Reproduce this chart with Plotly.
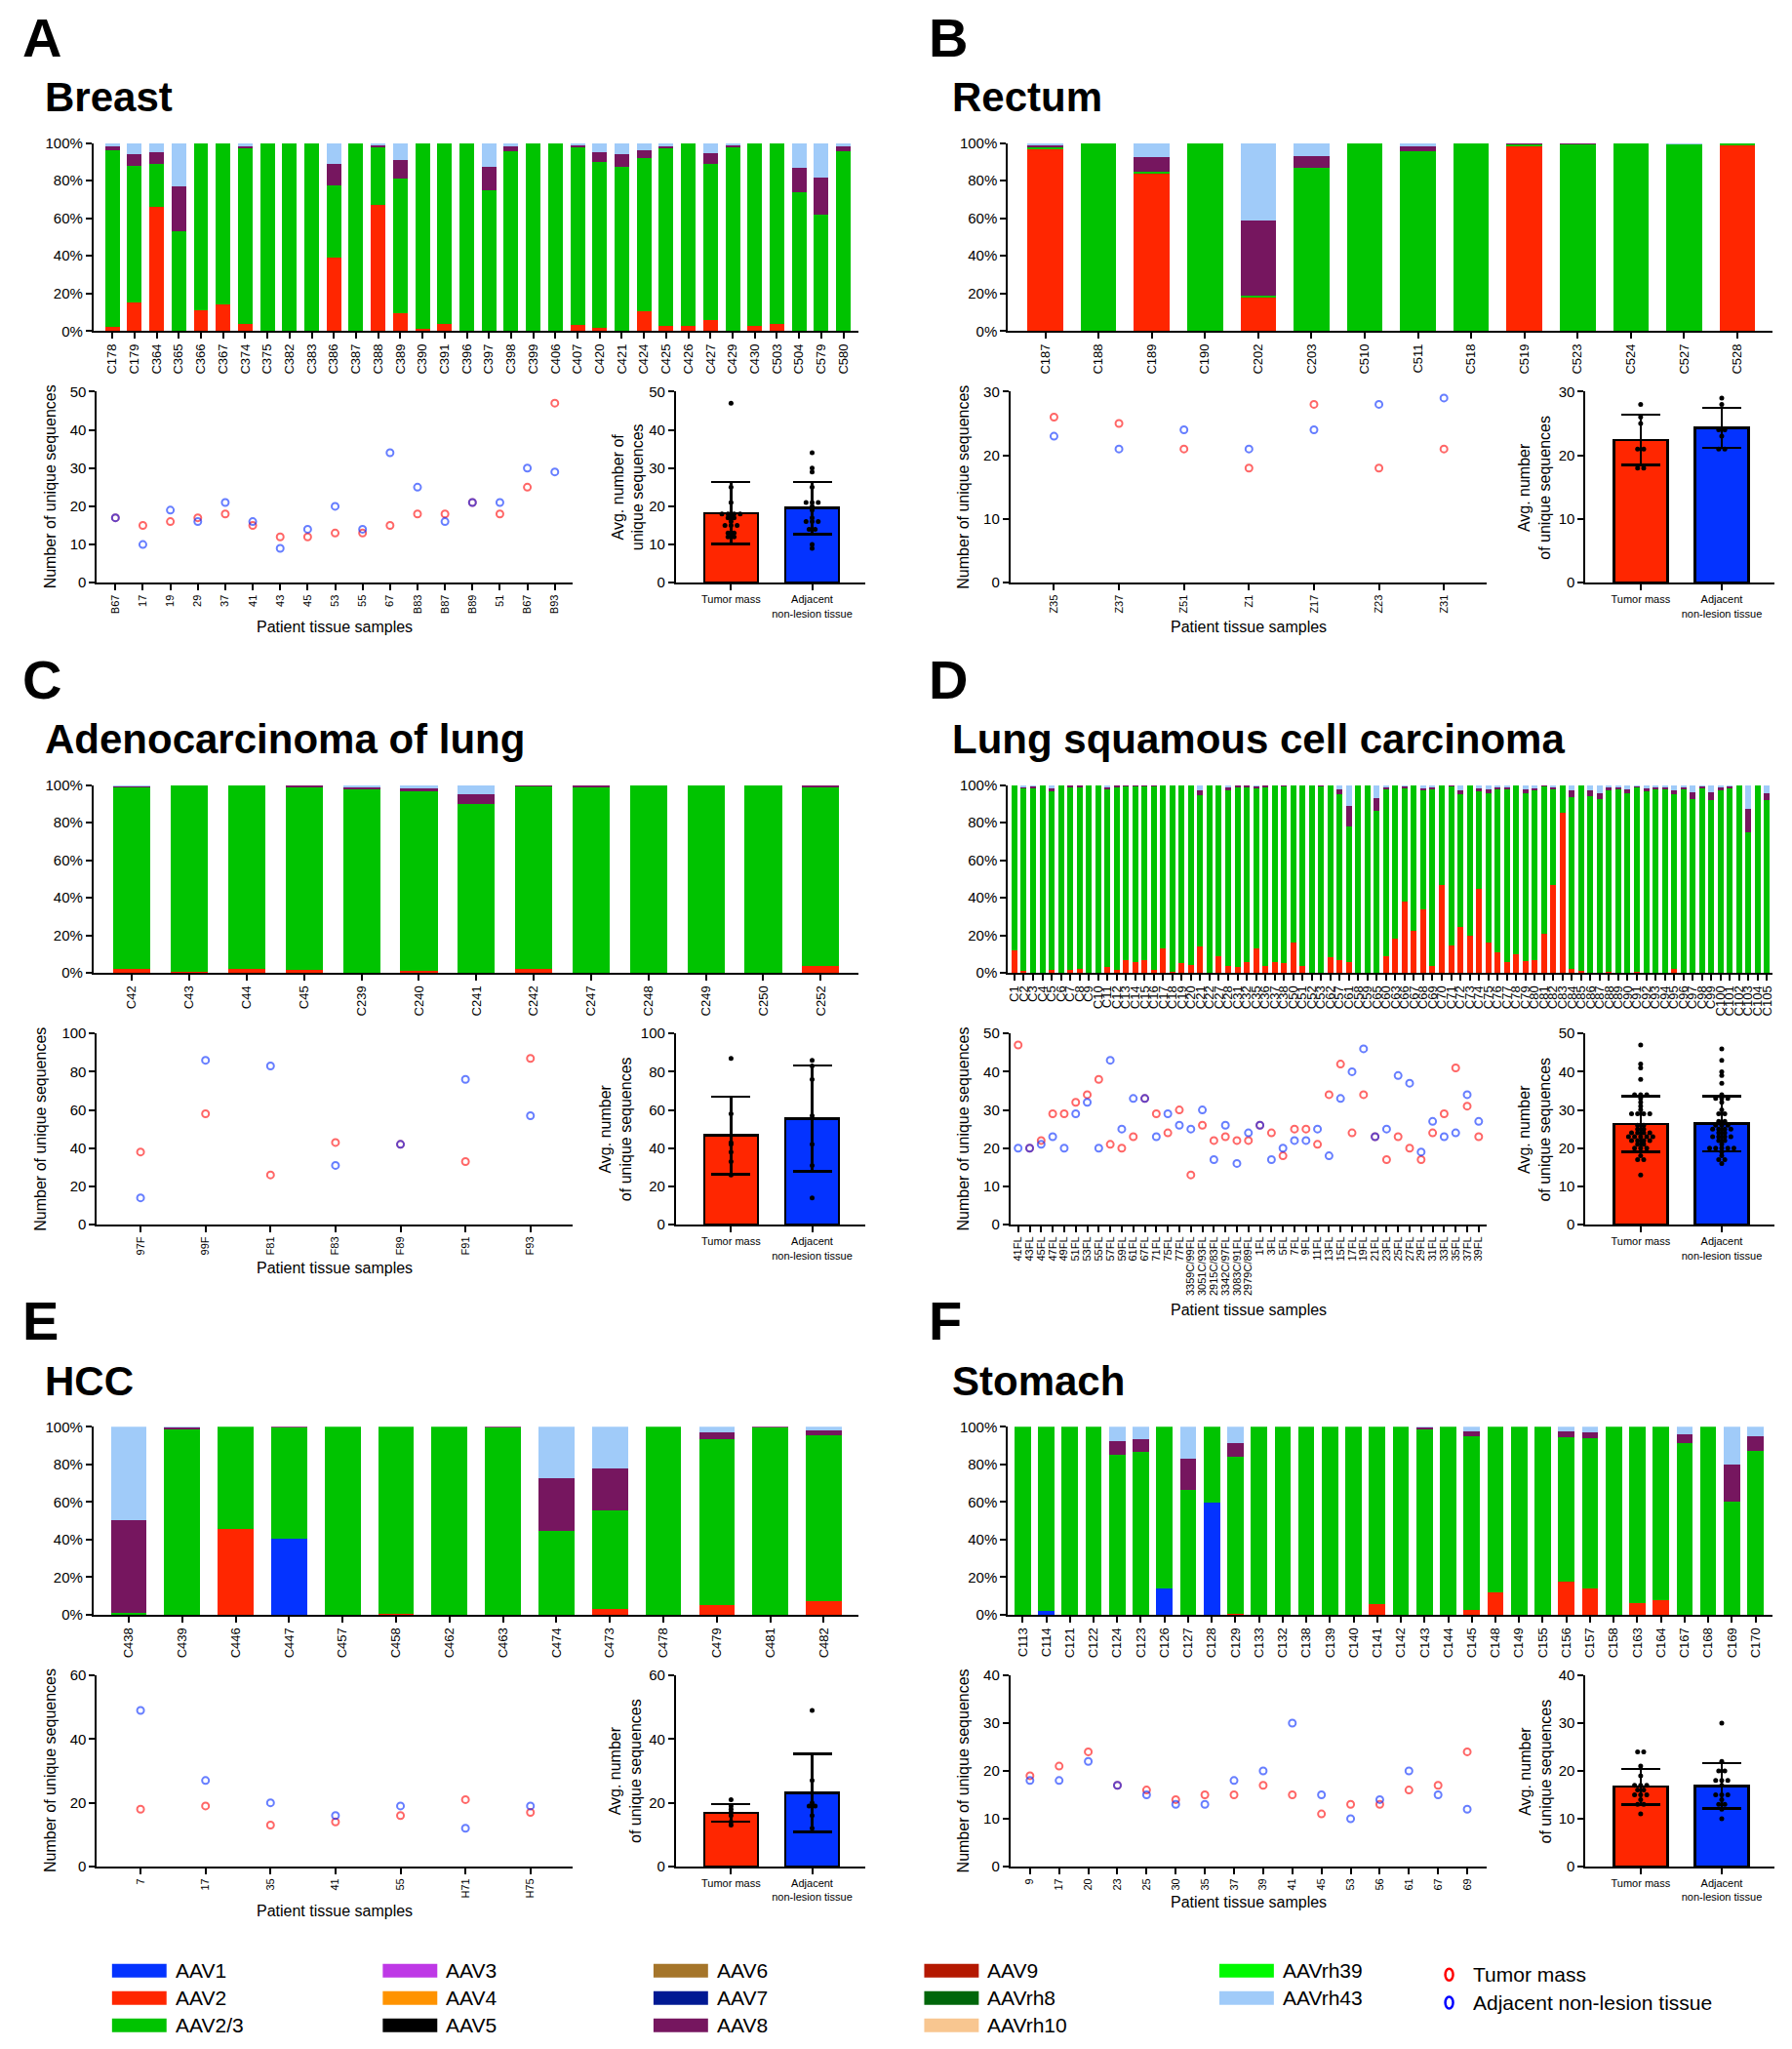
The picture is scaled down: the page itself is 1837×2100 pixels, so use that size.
import numpy as np
import plotly.graph_objects as go

W, H = 1837, 2100          # target picture size
OX, OY = 8, 19             # where the figure lands inside the page
VSCALE = 2120 / 2100       # page rows per picture row (measured)
FW, FH = W - 2 * OX, 2088
FONT = "Liberation Sans, Arial, Helvetica, sans-serif"

# ---------------- DATA ----------------
A_labels = ["C178","C179","C364","C365","C366","C367","C374","C375","C382","C383","C386","C387","C388","C389",
            "C390","C391","C396","C397","C398","C399","C406","C407","C420","C421","C424","C425","C426","C427",
            "C429","C430","C503","C504","C579","C580"]
A_AAV2   = [2, 15, 66, 0, 11, 14, 4, 0, 0, 0, 39, 0, 67, 9.5, 1, 4, 0, 0, 0, 0, 0, 3.5, 1.5, 0, 10.5, 3, 3, 6, 0, 3, 4, 0, 0, 0]
A_AAV23  = [94, 73, 23, 53, 89, 86, 93, 100, 100, 100, 38.5, 100, 31, 71.5, 99, 96, 100, 75, 95.5, 100, 100, 94.5, 88.5,
            87.5, 81.5, 94, 97, 83, 97.5, 97, 96, 74, 62, 95.5]
A_AAV8   = [2, 6, 6, 24, 0, 0, 1.5, 0, 0, 0, 11.5, 0, 1, 10, 0, 0, 0, 12.5, 2.5, 0, 0, 1, 5, 6.5, 4, 1.5, 0, 5.5, 1.2, 0, 0, 13, 19.5, 2.5]
A_AAVrh43 = [2, 6, 5, 23, 0, 0, 1.5, 0, 0, 0, 11, 0, 1, 9, 0, 0, 0, 12.5, 2, 0, 0, 1, 5, 6, 4, 1.5, 0, 5.5, 1.3, 0, 0, 13, 18.5, 2]
A_samples = ["B67","17","19","29","37","41","43","45","53","55","67","B83","B87","B89","51","B67","B93"]
A_tumor   = [17, 15, 16, 17, 18, 15, 12, 12, 13, 13, 15, 18, 18, 21, 18, 25, 47]
A_adj     = [17, 10, 19, 16, 21, 16, 9, 14, 20, 14, 34, 25, 16, 21, 21, 30, 29]

B_labels = ["C187","C188","C189","C190","C202","C203","C510","C511","C518","C519","C523","C524","C527","C528"]
B_AAV2   = [97, 0, 84, 0, 18, 0, 0, 0, 0, 98.5, 0, 0, 0, 99]
B_AAV23  = [1, 100, 1, 100, 1, 87, 100, 95.5, 100, 1, 99.5, 100, 99.7, 1]
B_AAV8   = [1, 0, 7.5, 0, 40, 6, 0, 2.5, 0, 0.5, 0.5, 0, 0, 0]
B_AAVrh43 = [1, 0, 7.5, 0, 41, 7, 0, 2, 0, 0, 0, 0, 0.3, 0]
B_samples = ["Z35","Z37","Z51","Z1","Z17","Z23","Z31"]
B_tumor   = [26, 25, 21, 18, 28, 18, 21]
B_adj     = [23, 21, 24, 21, 24, 28, 29]

C_labels = ["C42","C43","C44","C45","C239","C240","C241","C242","C247","C248","C249","C250","C252"]
C_AAV2   = [2, 0.7, 2, 1.5, 0, 1, 0, 2, 0, 0, 0, 0, 3.8]
C_AAV23  = [97, 99.3, 98, 97.8, 98, 95.5, 90, 97.8, 99, 100, 100, 100, 95.5]
C_AAV8   = [0.7, 0, 0, 0.7, 1, 1.8, 5, 0.2, 1, 0, 0, 0, 0.7]
C_AAVrh43 = [0.3, 0, 0, 0, 1, 1.7, 5, 0, 0, 0, 0, 0, 0]
C_samples = ["97F","99F","F81","F83","F89","F91","F93"]
C_tumor   = [38, 58, 26, 43, 42, 33, 87]
C_adj     = [14, 86, 83, 31, 42, 76, 57]

D_labels = ["C1","C2","C3","C4","C5","C6","C7","C8","C9","C10","C11","C12","C13","C14","C15","C16","C17","C18",
            "C19","C20","C21","C22","C27","C28","C31","C32","C35","C36","C37","C38","C50","C51","C52","C53","C62",
            "C57","C61","C58","C59","C65","C60","C63","C66","C67","C68","C69","C70","C71","C72","C73","C74","C75",
            "C76","C77","C78","C79","C80","C81","C82","C83","C84","C85","C86","C87","C88","C89","C90","C91","C92",
            "C93","C94","C95","C96","C97","C98","C99","C100","C101","C102","C103","C104","C105"]
D_AAV2 = [12, 1, 0, 0, 1.5, 0, 1.5, 2.4, 0, 0, 3.3, 1.5, 6.7, 6, 6.7, 1.4, 12.9, 0.8, 5.3, 4.3, 14, 0, 9, 3.6,
          3.1, 5.9, 13.1, 3.6, 6, 5.2, 16.4, 3.6, 0, 0, 8.4, 6.7, 5.9, 0, 0, 0, 9, 18, 38, 22.4, 33.7, 3.8, 46.6,
          14.8, 24.5, 19.8, 44.7, 16, 11, 5.9, 9.7, 6.3, 7, 21, 46.8, 85.2, 2, 1, 0, 0, 0.5, 0, 0, 0.5, 0, 0, 0.3,
          1.9, 0, 0, 0, 0, 0, 0.3, 0, 0, 0, 0]
D_AAV23 = [88, 97.6, 98.8, 100, 95, 100, 97.6, 96.7, 100, 100, 94.6, 97.6, 92.8, 93.5, 92.8, 98.1, 87.1, 99.2, 94.7,
           95.7, 80.3, 100, 91, 93.8, 96, 93.2, 85.7, 95.5, 94, 94.3, 83.6, 96.4, 100, 99.8, 91.6, 88.5, 72.1, 100,
           100, 86, 88.9, 82, 60.8, 77.6, 63.2, 94.1, 53.4, 84.9, 70.5, 80.2, 52, 79.7, 86.9, 92.2, 90.3, 89.4, 90,
           78.7, 50.8, 14.8, 91.6, 99, 94, 92.5, 96.4, 97.9, 95.5, 98.6, 96.7, 98.3, 97.6, 93.2, 97.7, 92.5, 98.8,
           91.8, 97.6, 98.3, 100, 74.8, 100, 91.7]
D_AAV8 = [0, 0.7, 0.7, 0, 1.8, 0, 0.9, 0.9, 0, 0, 1.1, 0.9, 0.5, 0.5, 0.5, 0.5, 0, 0, 0, 0, 2.7, 0, 0, 1.4, 0.9,
          0.9, 0.7, 0.9, 0, 0.5, 0, 0, 0, 0.2, 0, 2.4, 10.8, 0, 0, 7, 1.2, 0, 0.7, 0, 1.4, 1.1, 0, 0.3, 2.4, 0, 1.6,
          2.2, 1.1, 1, 0, 2.2, 1.4, 0.3, 1.2, 0, 3.8, 0, 3, 3.3, 1.7, 1.1, 2.4, 0.6, 1.6, 0.8, 1.2, 2.3, 1.3, 3.7,
          0.7, 4.2, 1, 0.9, 0, 12.7, 0, 4]
D_AAVrh43 = [0, 0.7, 0.5, 0, 1.7, 0, 0, 0, 0, 0, 1, 0, 0, 0, 0, 0, 0, 0, 0, 0, 3, 0, 0, 1.2, 0, 0, 0.5, 0, 0, 0,
             0, 0, 0, 0, 0, 2.4, 11.2, 0, 0, 7, 0.9, 0, 0.5, 0, 1.7, 1, 0, 0, 2.6, 0, 1.7, 2.1, 1, 0.9, 0, 2.1, 1.6,
             0, 1.2, 0, 2.6, 0, 3, 4.2, 1.4, 1, 2.1, 0.3, 1.7, 0.9, 0.9, 2.6, 1, 3.8, 0.5, 4, 1.4, 0.5, 0, 12.5, 0, 4.3]
D_samples = ["41FL","43FL","45FL","47FL","49FL","51FL","53FL","55FL","57FL","59FL","61FL","67FL","71FL","75FL",
             "77FL","3359C/99FL","3051C/93FL","2915C/83FL","3342C/97FL","3083C/91FL","2979C/89FL","1FL","3FL",
             "5FL","7FL","9FL","11FL","13FL","15FL","17FL","19FL","21FL","23FL","25FL","27FL","29FL","31FL",
             "33FL","35FL","37FL","39FL"]
D_tumor = [47, 20, 22, 29, 29, 32, 34, 38, 21, 20, 23, 33, 29, 24, 30, 13, 26, 22, 23, 22, 22, 26, 24, 18, 25, 25,
           21, 34, 42, 24, 34, 23, 17, 23, 20, 17, 24, 29, 41, 31, 23]
D_adj = [20, 20, 21, 23, 20, 29, 32, 20, 43, 25, 33, 33, 23, 29, 26, 25, 30, 17, 26, 16, 24, 26, 17, 20, 22, 22,
         25, 18, 33, 40, 46, 23, 25, 39, 37, 19, 27, 23, 24, 34, 27]

E_labels = ["C438","C439","C446","C447","C457","C458","C462","C463","C474","C473","C478","C479","C481","C482"]
E_AAV1   = [0, 0, 0, 40.5, 0, 0, 0, 0, 0, 0, 0, 0, 0, 0]
E_AAV2   = [0, 0, 45.5, 0, 0, 0.5, 0, 0, 0, 3, 0, 5, 0, 7.5]
E_AAV23  = [1, 98.6, 54.5, 59.3, 100, 99.5, 100, 99.6, 44.5, 52.5, 100, 88.5, 99.7, 88]
E_AAV8   = [49.5, 1, 0, 0.2, 0, 0, 0, 0.4, 28, 22.5, 0, 3.5, 0.3, 2.5]
E_AAVrh43 = [49.5, 0.4, 0, 0, 0, 0, 0, 0, 27.5, 22, 0, 3, 0, 2]
E_samples = ["7","17","35","41","55","H71","H75"]
E_tumor   = [18, 19, 13, 14, 16, 21, 17]
E_adj     = [49, 27, 20, 16, 19, 12, 19]

F_labels = ["C113","C114","C121","C122","C124","C123","C126","C127","C128","C129","C133","C132","C138","C139",
            "C140","C141","C142","C143","C144","C145","C148","C149","C155","C156","C157","C158","C163","C164",
            "C167","C168","C169","C170"]
F_AAV1   = [0, 2, 0, 0, 0, 0, 14, 0, 59.5, 0, 0, 0, 0, 0, 0, 0, 0, 0, 0, 0, 0, 0, 0, 0, 0, 0, 0, 0, 0, 0, 0, 0]
F_AAV2   = [0, 0, 0, 0, 0, 0, 0, 0, 0, 0.5, 0, 0, 0, 0, 0, 5.5, 0, 0, 0, 2.5, 12, 0, 0, 17.5, 14, 0, 6, 8, 0, 0, 0, 0]
F_AAV23  = [100, 98, 100, 100, 85, 86.5, 86, 66.5, 40.5, 83.5, 100, 100, 100, 100, 100, 94.5, 100, 98.8, 100, 92.5,
            88, 100, 100, 77, 80, 100, 94, 92, 91.5, 100, 60, 87]
F_AAV8   = [0, 0, 0, 0, 7.5, 7, 0, 16.5, 0, 7.5, 0, 0, 0, 0, 0, 0, 0, 1, 0, 2.5, 0, 0, 0, 3, 3, 0, 0, 0, 4.5, 0, 20, 8]
F_AAVrh43 = [0, 0, 0, 0, 7.5, 6.5, 0, 17, 0, 8.5, 0, 0, 0, 0, 0, 0, 0, 0.2, 0, 2.5, 0, 0, 0, 2.5, 3, 0, 0, 0, 4,
             0, 20, 5]
F_samples = ["9","17","20","23","25","30","35","37","39","41","45","53","56","61","67","69"]
F_tumor   = [19, 21, 24, 17, 16, 14, 15, 15, 17, 15, 11, 13, 13, 16, 17, 24]
F_adj     = [18, 18, 22, 17, 15, 13, 13, 18, 20, 30, 15, 10, 14, 20, 15, 12]

SEROTYPES = ["AAV1","AAV2","AAV2/3","AAV3","AAV4","AAV5","AAV6","AAV7","AAV8","AAV9","AAVrh8","AAVrh10",
             "AAVrh39","AAVrh43"]
SERO_COLORS = ["#0433FF","#FF2600","#00C300","#BE38E6","#FF9300","#000000","#A5752A","#011993","#76165F",
               "#B41800","#00660A","#F8C690","#00F900","#A0CBF9"]
GROUPS = ["Tumor mass", "Adjacent non-lesion tissue"]
GROUP_TICKS = ["Tumor mass", "Adjacent<br>non-lesion tissue"]
PCT_TICKS = [0, 20, 40, 60, 80, 100]
PCT_TEXT = ["0%", "20%", "40%", "60%", "80%", "100%"]

# ---------------- LAYOUT ----------------
COLOR = dict(zip(SEROTYPES, SERO_COLORS))
RED_O = "rgba(255,0,0,0.6)"
BLUE_O = "rgba(0,40,255,0.6)"


def PX(x):
    return (x - OX) / FW


def PY(y):
    return 1 - (y * VSCALE - OY) / FH


fig = go.Figure()
layout = dict(width=FW, height=FH, autosize=False, margin=dict(l=0, r=0, t=0, b=0, pad=0),
              paper_bgcolor="white", plot_bgcolor="white", barmode="stack", showlegend=False,
              font=dict(family=FONT, color="black"))
annotations, shapes = [], []

BASE = dict(showline=True, linecolor="black", linewidth=2, ticks="outside", ticklen=6, tickwidth=2,
            tickcolor="black", showgrid=False, zeroline=False, fixedrange=True,
            tickfont=dict(family=FONT, size=15, color="black"))
_n = [0]


def axes(xpx, ypx, xkw, ykw):
    _n[0] += 1
    s = "" if _n[0] == 1 else str(_n[0])
    layout["xaxis" + s] = {**BASE, "domain": [PX(xpx[0]), PX(xpx[1])], "anchor": "y" + s, **xkw}
    layout["yaxis" + s] = {**BASE, "domain": [PY(ypx[1]), PY(ypx[0])], "anchor": "x" + s, **ykw}
    return "x" + s, "y" + s


def text(x, y, t, size, bold=False, angle=0, xanchor="center", yanchor="middle"):
    annotations.append(dict(x=PX(x), y=PY(y), xref="paper", yref="paper", text=t, showarrow=False,
                            textangle=angle, xanchor=xanchor, yanchor=yanchor,
                            font=dict(family=FONT, size=size, color="black",
                                      weight="bold" if bold else "normal")))


def swarm(vals, step=0.075):
    v = np.asarray(vals, dtype=float)
    off = np.zeros(len(v))
    for u in np.unique(v):
        idx = np.where(v == u)[0]
        off[idx] = (np.arange(len(idx)) - (len(idx) - 1) / 2) * step
    return off


COLS = [dict(letter_x=20, title_x=43, stack=(95, 880), scat=(98.6, 587), bar=(693, 887)),
        dict(letter_x=951, title_x=975, stack=(1034, 1819), scat=(1036.5, 1525), bar=(1627, 1821))]

panels = [
    dict(letter="A", title="Breast", col=0, row=0, labels=A_labels,
         series={"AAV2": A_AAV2, "AAV2/3": A_AAV23, "AAV8": A_AAV8, "AAVrh43": A_AAVrh43},
         pad=(0.85, 0.66), bw=0.66, samples=A_samples, tumor=A_tumor, adj=A_adj, ymax=50, dtick=10,
         ylab2="Avg. number of<br>unique sequences", pt_y=644, ytoff=48.5, btoff=49),
    dict(letter="B", title="Rectum", col=1, row=0, labels=B_labels,
         series={"AAV2": B_AAV2, "AAV2/3": B_AAV23, "AAV8": B_AAV8, "AAVrh43": B_AAVrh43},
         pad=(0.7, 0.66), bw=0.67, samples=B_samples, tumor=B_tumor, adj=B_adj, ymax=30, dtick=10,
         ylab2="Avg. number<br>of unique sequences", pt_y=644, ytoff=48.5, btoff=52),
    dict(letter="C", title="Adenocarcinoma of lung", col=0, row=1, labels=C_labels,
         series={"AAV2": C_AAV2, "AAV2/3": C_AAV23, "AAV8": C_AAV8, "AAVrh43": C_AAVrh43},
         pad=(0.67, 0.65), bw=0.65, samples=C_samples, tumor=C_tumor, adj=C_adj, ymax=100, dtick=20,
         ylab2="Avg. number<br>of unique sequences", pt_y=643, ytoff=58, btoff=62),
    dict(letter="D", title="Lung squamous cell carcinoma", col=1, row=1, labels=D_labels,
         series={"AAV2": D_AAV2, "AAV2/3": D_AAV23, "AAV8": D_AAV8, "AAVrh43": D_AAVrh43},
         pad=(0.7, 0.6), bw=0.63, samples=D_samples, tumor=D_tumor, adj=D_adj, ymax=50, dtick=10,
         ylab2="Avg. number<br>of unique sequences", pt_y=686, ytoff=48.5, btoff=52),
    dict(letter="E", title="HCC", col=0, row=2, labels=E_labels,
         series={"AAV1": E_AAV1, "AAV2": E_AAV2, "AAV2/3": E_AAV23, "AAV8": E_AAV8, "AAVrh43": E_AAVrh43},
         pad=(0.66, 0.64), bw=0.67, samples=E_samples, tumor=E_tumor, adj=E_adj, ymax=60, dtick=20,
         ylab2="Avg. number<br>of unique sequences", pt_y=644, ytoff=48.5, btoff=52),
    dict(letter="F", title="Stomach", col=1, row=2, labels=F_labels,
         series={"AAV1": F_AAV1, "AAV2": F_AAV2, "AAV2/3": F_AAV23, "AAV8": F_AAV8, "AAVrh43": F_AAVrh43},
         pad=(0.62, 0.72), bw=0.69, samples=F_samples, tumor=F_tumor, adj=F_adj, ymax=40, dtick=10,
         ylab2="Avg. number<br>of unique sequences", pt_y=635, ytoff=48.5, btoff=51),
]

ROW_STEP = 657
for p in panels:
    c = COLS[p["col"]]
    off = p["row"] * ROW_STEP
    text(c["letter_x"], 40 + off, p["letter"], 56, bold=True, xanchor="left")
    text(c["title_x"], 101 + off, p["title"], 42, bold=True, xanchor="left")

    n = len(p["labels"])
    idx = list(range(n))
    xa, ya = axes(c["stack"], (148.3 + off, 340.7 + off),
                  dict(range=[-p["pad"][0], n - 1 + p["pad"][1]], tickmode="array", tickvals=idx,
                       ticktext=p["labels"], tickangle=-90, tickfont=dict(family=FONT, size=13, color="black")),
                  dict(range=[0, 100], tickmode="array", tickvals=PCT_TICKS, ticktext=PCT_TEXT))
    for sero in SEROTYPES:
        if sero in p["series"]:
            fig.add_trace(go.Bar(x=idx, y=p["series"][sero], xaxis=xa, yaxis=ya, width=p["bw"],
                                 marker=dict(color=COLOR[sero], line=dict(width=0)), name=sero))

    m = len(p["samples"])
    sidx = list(range(m))
    xa, ya = axes(c["scat"], (402.7 + off, 598.3 + off),
                  dict(range=[-0.67, m - 1 + 0.65], tickmode="array", tickvals=sidx, ticktext=p["samples"],
                       tickangle=-90, tickfont=dict(family=FONT, size=11, color="black")),
                  dict(range=[0, p["ymax"]], dtick=p["dtick"], tick0=0))
    fig.add_trace(go.Scatter(x=sidx, y=p["tumor"], mode="markers", xaxis=xa, yaxis=ya, name=GROUPS[0],
                             marker=dict(symbol="circle-open", size=7, color=RED_O, line=dict(width=2))))
    fig.add_trace(go.Scatter(x=sidx, y=p["adj"], mode="markers", xaxis=xa, yaxis=ya, name=GROUPS[1],
                             marker=dict(symbol="circle-open", size=7, color=BLUE_O, line=dict(width=2))))
    ymid = (402.7 + 598.3) / 2 + off
    text(c["scat"][0] - p["ytoff"], ymid, "Number of unique sequences", 16, angle=-90)
    text((c["scat"][0] + c["scat"][1]) / 2, p["pt_y"] + off, "Patient tissue samples", 16)

    xa, ya = axes(c["bar"], (402.7 + off, 598.3 + off),
                  dict(range=[-0.68, 1.65], tickmode="array", tickvals=[0, 1], ticktext=GROUP_TICKS,
                       tickfont=dict(family=FONT, size=11, color="black")),
                  dict(range=[0, p["ymax"]], dtick=p["dtick"], tick0=0))
    for gi, (vals, col) in enumerate([(p["tumor"], "#FF2600"), (p["adj"], "#0433FF")]):
        v = np.asarray(vals, dtype=float)
        fig.add_trace(go.Bar(x=[gi], y=[v.mean()], xaxis=xa, yaxis=ya, width=0.66, name=GROUPS[gi],
                             marker=dict(color=col, line=dict(color="black", width=2.5)),
                             error_y=dict(type="data", array=[v.std(ddof=1)], color="black", thickness=2.5,
                                          width=20)))
        fig.add_trace(go.Scatter(x=gi + swarm(v), y=v, mode="markers", xaxis=xa, yaxis=ya, name=GROUPS[gi],
                                 marker=dict(symbol="circle", size=5, color="black")))
    text(c["bar"][0] - p["btoff"], ymid, p["ylab2"], 16, angle=-90)

LEG_COLS = [114, 392, 670, 948, 1251]
LEG_ROWS = [2019, 2047, 2075]
for i, sero in enumerate(SEROTYPES):
    cx = LEG_COLS[i // 3]
    cy = LEG_ROWS[i % 3]
    shapes.append(dict(type="rect", xref="paper", yref="paper", x0=PX(cx), x1=PX(cx + 56),
                       y0=PY(cy + 7), y1=PY(cy - 7), fillcolor=COLOR[sero], line=dict(width=0)))
    text(cx + 63, cy, sero, 21, xanchor="left")
for j, (g, col) in enumerate(zip(GROUPS, ["#FF0000", "#0000FF"])):
    cy = [2023, 2051.7][j]
    shapes.append(dict(type="circle", xref="paper", yref="paper", x0=PX(1483), x1=PX(1491),
                       y0=PY(cy + 6), y1=PY(cy - 6), line=dict(color=col, width=2.5)))
    text(1509, cy, g, 21, xanchor="left")

layout["annotations"] = annotations
layout["shapes"] = shapes
fig.update_layout(**layout)

fig.write_html("out.html", config={"displayModeBar": False})
